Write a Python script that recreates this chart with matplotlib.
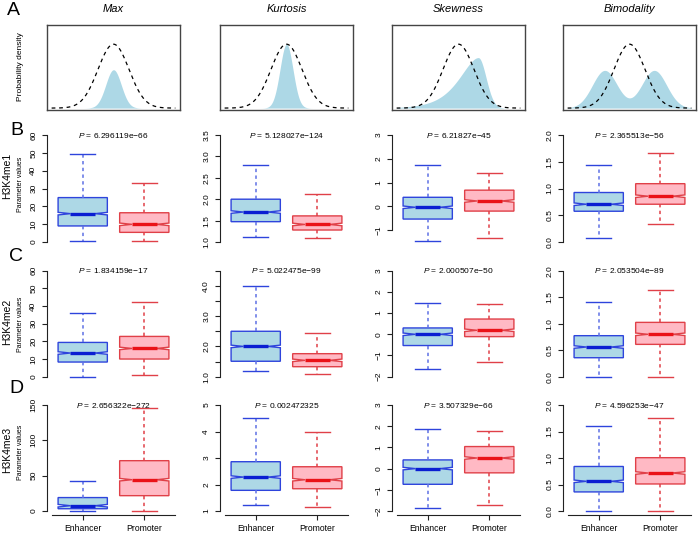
import numpy as np
import matplotlib
matplotlib.use('Agg')
import matplotlib.pyplot as plt

plt.rcParams['font.family'] = ['Liberation Sans', 'DejaVu Sans']
plt.rcParams['mathtext.fontset'] = 'custom'
plt.rcParams['mathtext.it'] = 'Liberation Sans:italic'
plt.rcParams['mathtext.rm'] = 'Liberation Sans'

# ---------------- data ----------------
shape_titles = ['Max', 'Kurtosis', 'Skewness', 'Bimodality']
# schematic shape parameters (x in units of the reference sd)
max_shape = dict(center=0.0, sd=0.5, peak=0.6)
kurt_shape = dict(center=0.0, sd=0.42, peak=1.0)
skew_shape = dict(mode=1.28, peak=0.79, left_scale=1.0, right_sd=0.5)
bimod_shape = dict(centers=[-1.6, 1.6], sd=0.8, peak=0.59)

marks = ['H3K4me1', 'H3K4me2', 'H3K4me3']
categories = ['Enhancer', 'Promoter']

# [whisker low, Q1, median, Q3, whisker high] per panel (Max, Kurtosis, Skewness, Bimodality)
h3k4me1_enhancer = [[0.6, 9.0, 15.9, 24.9, 49.2], [1.125, 1.475, 1.70, 2.00, 2.79],
                    [-1.45, -0.535, -0.04, 0.38, 1.73], [0.075, 0.575, 0.706, 0.925, 1.43]]
h3k4me1_promoter = [[0.6, 5.4, 9.9, 16.4, 33.1], [1.10, 1.28, 1.41, 1.61, 2.11],
                    [-1.32, -0.20, 0.225, 0.68, 1.41], [0.34, 0.706, 0.856, 1.09, 1.67]]
h3k4me2_enhancer = [[0.0, 8.3, 13.4, 19.4, 36.0], [1.175, 1.51, 2.0, 2.50, 3.99],
                    [-1.66, -0.53, 0.0, 0.30, 1.49], [0.0, 0.358, 0.56, 0.774, 1.415]]
h3k4me2_promoter = [[0.9, 10.0, 16.0, 22.8, 42.5], [1.09, 1.33, 1.54, 1.76, 2.43],
                    [-1.33, -0.11, 0.19, 0.72, 1.45], [0.0, 0.61, 0.80, 1.025, 1.635]]
h3k4me3_enhancer = [[0.0, 3.2, 7.5, 19.0, 42.9], [1.21, 1.78, 2.28, 2.86, 4.50],
                    [-1.87, -0.74, 0.0, 0.41, 1.855], [0.0, 0.36, 0.56, 0.84, 1.60]]
h3k4me3_promoter = [[0.0, 21.7, 44.3, 71.2, 145.3], [1.15, 1.84, 2.18, 2.67, 3.98],
                    [-1.71, -0.20, 0.50, 1.04, 1.79], [0.0, 0.51, 0.717, 1.006, 1.75]]

p_h3k4me1 = ['6.296119e\u221266', '5.128027e\u2212124', '6.21827e\u221245', '2.365513e\u221256']
p_h3k4me2 = ['1.834159e\u221217', '5.022475e\u221299', '2.000507e\u221250', '2.053504e\u221289']
p_h3k4me3 = ['2.656322e\u2212272', '0.002472325', '3.507329e\u221266', '4.596253e\u221247']

ylims_h3k4me1 = [(0, 60), (1, 3.5), (-1.5, 3), (0, 2)]
ylims_h3k4me2 = [(0, 60), (1, 4.5), (-2, 3), (0, 2)]
ylims_h3k4me3 = [(0, 150), (1, 5), (-2, 3), (0, 2)]

yticks_h3k4me1 = [[0, 10, 20, 30, 40, 50, 60], [1.0, 1.5, 2.0, 2.5, 3.0, 3.5], [-1, 0, 1, 2, 3], [0.0, 0.5, 1.0, 1.5, 2.0]]
ylabels_h3k4me1 = [['0', '10', '20', '30', '40', '50', '60'], ['1.0', '1.5', '2.0', '2.5', '3.0', '3.5'],
                   ['\u22121', '0', '1', '2', '3'], ['0.0', '0.5', '1.0', '1.5', '2.0']]
yticks_h3k4me2 = [[0, 10, 20, 30, 40, 50, 60], [1.0, 1.5, 2.0, 2.5, 3.0, 3.5, 4.0, 4.5], [-2, -1, 0, 1, 2, 3], [0.0, 0.5, 1.0, 1.5, 2.0]]
ylabels_h3k4me2 = [['0', '10', '20', '30', '40', '50', '60'], ['1.0', '', '2.0', '', '3.0', '', '4.0', ''],
                   ['\u22122', '\u22121', '0', '1', '2', '3'], ['0.0', '0.5', '1.0', '1.5', '2.0']]
yticks_h3k4me3 = [[0, 50, 100, 150], [1, 2, 3, 4, 5], [-2, -1, 0, 1, 2, 3], [0.0, 0.5, 1.0, 1.5, 2.0]]
ylabels_h3k4me3 = [['0', '50', '100', '150'], ['1', '2', '3', '4', '5'],
                   ['\u22122', '\u22121', '0', '1', '2', '3'], ['0.0', '0.5', '1.0', '1.5', '2.0']]

# ---------------- layout ----------------
W, H = 698, 534
fig = plt.figure(figsize=(W / 100, H / 100), dpi=100)


def px_axes(left, top, width, height):
    return fig.add_axes([left / W, 1 - (top + height) / H, width / W, height / H])


col_left = [47, 220, 392, 563]
col_w = 133
row_data_px = [(135, 242), (270.7, 376.7), (405, 511)]  # (px of ylim top, px of ylim bottom)

# ---------------- row A ----------------
xs = np.linspace(-4, 4, 600)
ref = np.exp(-0.5 * xs ** 2)


def gauss(x, c, sd, pk):
    return pk * np.exp(-0.5 * ((x - c) / sd) ** 2)


z = (xs - skew_shape['mode']) / skew_shape['left_scale']
skew_left = skew_shape['peak'] * np.exp(z - np.exp(z) + 1)
skew_right = gauss(xs, skew_shape['mode'], skew_shape['right_sd'], skew_shape['peak'])
shapes = [
    gauss(xs, max_shape['center'], max_shape['sd'], max_shape['peak']),
    gauss(xs, kurt_shape['center'], kurt_shape['sd'], kurt_shape['peak']),
    np.where(xs < skew_shape['mode'], skew_left, skew_right),
    sum(gauss(xs, c, bimod_shape['sd'], bimod_shape['peak']) for c in bimod_shape['centers']),
]

for j in range(4):
    ax = px_axes(col_left[j], 25, col_w, 85)
    ax.fill_between(xs, 0, shapes[j], color='#ADD8E6', lw=0)
    ax.plot(xs, ref, color='black', lw=0.9, linestyle=(0, (3, 3)))
    ax.set_xlim(-4.3, 4.3)
    ax.set_ylim(-0.03, 1.3)
    ax.set_xticks([])
    ax.set_yticks([])
    for s in ax.spines.values():
        s.set_color('#444444')
        s.set_linewidth(1.0)
    fig.text((col_left[j] + col_w / 2) / W, 1 - 12.5 / H, shape_titles[j], style='italic',
             fontsize=8, ha='center', va='baseline')

fig.text(21 / W, 1 - 67 / H, 'Probability density', rotation=90, fontsize=6, ha='center', va='center')

# ---------------- rows B-D ----------------
rows = [
    (h3k4me1_enhancer, h3k4me1_promoter, p_h3k4me1, ylims_h3k4me1, yticks_h3k4me1, ylabels_h3k4me1),
    (h3k4me2_enhancer, h3k4me2_promoter, p_h3k4me2, ylims_h3k4me2, yticks_h3k4me2, ylabels_h3k4me2),
    (h3k4me3_enhancer, h3k4me3_promoter, p_h3k4me3, ylims_h3k4me3, yticks_h3k4me3, ylabels_h3k4me3),
]

enh_style = dict(face='#ADD8E6', edge='#2E44DC', med='#0A1ED2', whisk='#5E70E4')
pro_style = dict(face='#FFB9C4', edge='#E04048', med='#EA1218', whisk='#E04048')

for i, (enh, pro, pvals, ylims, yticks, ylabels) in enumerate(rows):
    top_px, bot_px = row_data_px[i]
    span = bot_px - top_px
    for j in range(4):
        lo, hi = ylims[j]
        rng = hi - lo
        ax = px_axes(col_left[j], top_px - 0.04 * span, col_w, span * 1.08)
        stats = []
        for vals in (enh[j], pro[j]):
            wl, q1, med, q3, wh = vals
            nd = 0.012 * rng
            stats.append(dict(whislo=wl, q1=q1, med=med, q3=q3, whishi=wh, fliers=[],
                              cilo=med - nd, cihi=med + nd))
        bp = ax.bxp(stats, positions=[1, 2], widths=0.8, shownotches=True, patch_artist=True,
                    showfliers=False, manage_ticks=False)
        for k, st in enumerate((enh_style, pro_style)):
            bp['boxes'][k].set(facecolor=st['face'], edgecolor=st['edge'], linewidth=1.0, zorder=2)
            for w in bp['whiskers'][2 * k:2 * k + 2]:
                w.set(color=st['whisk'], linestyle=(0, (2.2, 2.2)), linewidth=1.1)
            for c in bp['caps'][2 * k:2 * k + 2]:
                c.set(color=st['edge'], linewidth=1.0)
            bp['medians'][k].set(color=st['med'], linewidth=2.4, solid_capstyle='butt', zorder=3)
        ax.set_xlim(0.42, 2.58)
        ax.set_ylim(lo - 0.04 * rng, hi + 0.04 * rng)
        for s in ('top', 'right'):
            ax.spines[s].set_visible(False)
        ax.spines['left'].set_bounds(yticks[j][0], yticks[j][-1])
        ax.spines['left'].set_linewidth(0.8)
        ax.spines['left'].set_color('#222222')
        ax.set_yticks(yticks[j])
        ax.set_yticklabels(ylabels[j], rotation=90, va='center', fontsize=6)
        ax.tick_params(axis='y', length=3.5, width=0.8, pad=3.5, color='#222222')
        ax.patch.set_visible(False)
        if i < 2:
            ax.spines['bottom'].set_visible(False)
            ax.set_xticks([])
        else:
            ax.spines['bottom'].set_bounds(0.5, 2.5)
            ax.spines['bottom'].set_linewidth(0.8)
            ax.spines['bottom'].set_color('#222222')
            ax.set_xticks([1, 2])
            ax.set_xticklabels(categories, fontsize=6.2)
            ax.tick_params(axis='x', length=3.5, width=0.8, pad=3, color='#222222')
        ax.text(1.5, hi, '$P$ = ' + pvals[j], ha='center', va='center', fontsize=6, zorder=5)

# row labels
row_label_y = [(176, 184), (322, 324), (450, 452)]
for i in range(3):
    fig.text(7 / W, 1 - row_label_y[i][0] / H, marks[i], rotation=90, fontsize=7.5, ha='center', va='center')
    fig.text(21 / W, 1 - row_label_y[i][1] / H, 'Parameter values', rotation=90, fontsize=5,
             ha='center', va='center')

# panel letters
for letter, xc, yb in [('A', 13.5, 15), ('B', 17, 135), ('C', 16.5, 261), ('D', 16, 393)]:
    fig.text(xc / W, 1 - yb / H, letter, fontsize=14, ha='center', va='baseline')

fig.savefig('out.png', dpi=100)
